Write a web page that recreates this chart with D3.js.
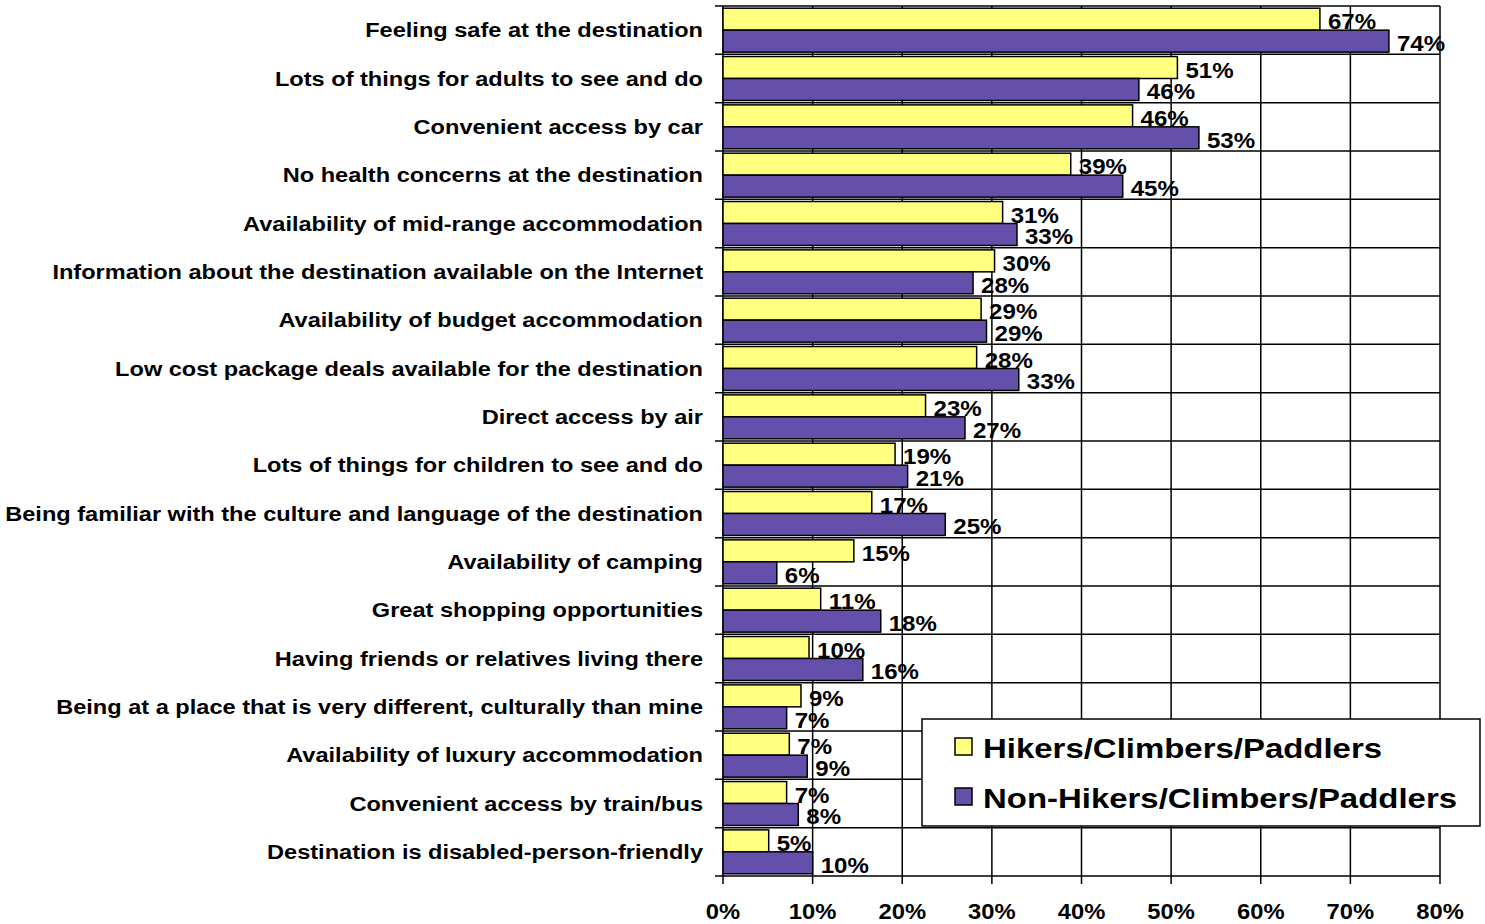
<!DOCTYPE html>
<html><head><meta charset="utf-8">
<script src="https://cdn.jsdelivr.net/npm/d3@7/dist/d3.min.js"></script>
<style>body{margin:0;background:#fff}svg{display:block}text{font-family:"Liberation Sans",Arial,sans-serif;font-weight:bold}</style>
</head><body><svg id="c" width="1485" height="924"></svg>
<script>
const categories = [
"Feeling safe at the destination",
"Lots of things for adults to see and do",
"Convenient access by car",
"No health concerns at the destination",
"Availability of mid-range accommodation",
"Information about the destination available on the Internet",
"Availability of budget accommodation",
"Low cost package deals available for the destination",
"Direct access by air",
"Lots of things for children to see and do",
"Being familiar with the culture and language of the destination",
"Availability of camping",
"Great shopping opportunities",
"Having friends or relatives living there",
"Being at a place that is very different, culturally than mine",
"Availability of luxury accommodation",
"Convenient access by train/bus",
"Destination is disabled-person-friendly"];
const hikers = [66.6,50.7,45.7,38.8,31.2,30.3,28.8,28.3,22.6,19.2,16.6,14.6,10.9,9.6,8.7,7.4,7.1,5.1];
const nonHikers = [74.3,46.4,53.1,44.6,32.8,27.9,29.4,33.0,27.0,20.6,24.8,6.0,17.6,15.6,7.1,9.4,8.4,10.0];
const seriesNames = ["Hikers/Climbers/Paddlers","Non-Hikers/Climbers/Paddlers"];
const xTicks = [0,10,20,30,40,50,60,70,80];

const colors = ["#FFFF80","#6450AA"];
const svg = d3.select("#c");
const L=723, R=1440, T=6, B=876;
const x = d3.scaleLinear().domain([0,80]).range([L,R]);
const y = d3.scaleBand().domain(categories).range([T,B]);
const inner = d3.scaleBand().domain([0,1]).range([0,y.bandwidth()]).paddingOuter(0.1);

// grid
const g = svg.append("g");
g.selectAll(".vg").data(xTicks).join("line")
 .attr("x1",d=>x(d)).attr("x2",d=>x(d)).attr("y1",T).attr("y2",B+8)
 .attr("stroke","#000").attr("stroke-width",1.5);
const bounds = d3.range(categories.length+1).map(i=>T+i*y.step());
g.selectAll(".hg").data(bounds).join("line")
 .attr("x1",L-8).attr("x2",R).attr("y1",d=>d).attr("y2",d=>d)
 .attr("stroke","#000").attr("stroke-width",1.5);

// bars
const series=[hikers,nonHikers];
series.forEach((vals,si)=>{
  svg.append("g").selectAll("rect").data(vals).join("rect")
   .attr("x",x(0)).attr("y",(d,i)=>y(categories[i])+inner(si))
   .attr("width",d=>x(d)-x(0)).attr("height",inner.bandwidth())
   .attr("fill",colors[si]).attr("stroke","#000").attr("stroke-width",1.5);
});
const fmt = d=>Math.round(d)+"%";
series.forEach((vals,si)=>{
  svg.append("g").selectAll("text").data(vals).join("text")
   .attr("transform",(d,i)=>`translate(${x(d)+8},${y(categories[i])+inner(si)+inner.bandwidth()-1}) scale(1.12,1)`)
   .attr("font-size",21.5).text(fmt);
});

// category labels
svg.append("g").selectAll("text").data(categories).join("text")
 .attr("transform",d=>`translate(703,${y(d)+y.bandwidth()/2}) scale(1.15,1)`).attr("dy","0.35em")
 .attr("text-anchor","end").attr("font-size",20.5).text(d=>d);

// x tick labels
svg.append("g").selectAll("text").data(xTicks).join("text")
 .attr("transform",d=>`translate(${x(d)},919) scale(1.08,1)`).attr("text-anchor","middle")
 .attr("font-size",22).text(d=>d+"%");

// legend
const lg = svg.append("g");
lg.append("rect").attr("x",922).attr("y",719).attr("width",558).attr("height",107)
 .attr("fill","#fff").attr("stroke","#000").attr("stroke-width",1.5);
seriesNames.forEach((n,i)=>{
  lg.append("rect").attr("x",955).attr("y",738+i*50).attr("width",17).attr("height",17)
   .attr("fill",colors[i]).attr("stroke","#000").attr("stroke-width",1.5);
  lg.append("text").attr("transform",`translate(983,${758+i*50}) scale(1.22,1)`).attr("font-size",27).text(n);
});
</script></body></html>
